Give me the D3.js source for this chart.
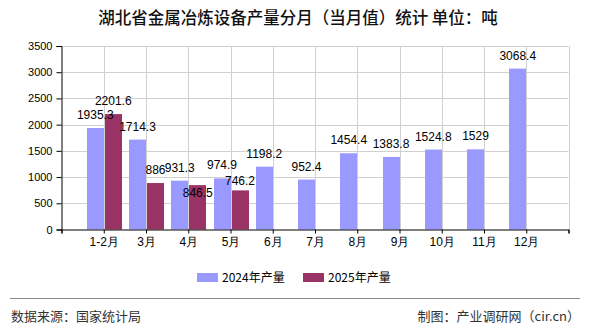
<!DOCTYPE html>
<html><head><meta charset="utf-8">
<script src="https://cdn.jsdelivr.net/npm/d3@7"></script>
<style>body{margin:0;background:#fff;}svg{display:block;}</style>
</head><body>
<svg id="c" width="590" height="330"></svg>
<script>
const categories = ["1-2月","3月","4月","5月","6月","7月","8月","9月","10月","11月","12月"];
const values2024 = [1935.3,1714.3,931.3,974.9,1198.2,952.4,1454.4,1383.8,1524.8,1529,3068.4];
const values2025 = [2201.6,886,846.5,746.2];
const yTicks = [0,500,1000,1500,2000,2500,3000,3500];
const seriesNames = ["2024年产量","2025年产量"];
const colors = ["#9999FF","#993366"];

const svg = d3.select("#c");
const L = 61.5, R = 568.5, T = 46, B = 229.5;
const y = d3.scaleLinear().domain([0,3500]).range([B,T]);
const x = d3.scalePoint().domain(["_s",...categories,"_e"]).range([L,R]);
const bw = 17;
const numFont = "'Liberation Sans', Arial, sans-serif";
const cjk = "'Noto Sans CJK SC', sans-serif";

// title
svg.append("text").attr("x",298).attr("y",24).attr("text-anchor","middle")
  .attr("font-family",cjk).attr("font-size",16.5).attr("font-weight",500).attr("fill","#111")
  .text("湖北省金属冶炼设备产量分月（当月值）统计  单位：吨");

// grid
const g = svg.append("g");
g.selectAll(".hg").data(yTicks.slice(1)).join("line")
  .attr("x1",L).attr("x2",R).attr("y1",d=>Math.round(y(d))+0.5).attr("y2",d=>Math.round(y(d))+0.5)
  .attr("stroke","#d0d0d0");
g.selectAll(".vg").data([...categories,"_e"]).join("line")
  .attr("x1",d=>Math.round(x(d))+0.5).attr("x2",d=>Math.round(x(d))+0.5).attr("y1",T).attr("y2",B)
  .attr("stroke","#d0d0d0");

// bars
svg.append("g").selectAll("rect").data(values2024).join("rect")
  .attr("x",(d,i)=>Math.round(x(categories[i]))-bw).attr("width",bw)
  .attr("y",d=>y(d)).attr("height",d=>B-y(d)).attr("fill",colors[0]);
svg.append("g").selectAll("rect").data(values2025).join("rect")
  .attr("x",(d,i)=>Math.round(x(categories[i]))+1).attr("width",bw)
  .attr("y",d=>y(d)).attr("height",d=>B-y(d)).attr("fill",colors[1]);

// labels
svg.append("g").selectAll("text").data(values2024).join("text")
  .attr("x",(d,i)=>x(categories[i])-bw/2).attr("y",d=>y(d)-9)
  .attr("text-anchor","middle").attr("font-family",numFont).attr("font-size",12).attr("fill","#000")
  .text(d=>d);
svg.append("g").selectAll("text").data(values2025).join("text")
  .attr("x",(d,i)=>x(categories[i])+bw/2+1).attr("y",(d,i)=> i===2 ? y(d)+12 : (i===3 ? y(d)-5 : y(d)-9))
  .attr("text-anchor","middle").attr("font-family",numFont).attr("font-size",12).attr("fill","#000")
  .text(d=>d);

// axes
const ya = svg.append("g").attr("transform",`translate(${L},0)`)
  .call(d3.axisLeft(y).tickValues(yTicks).tickSize(5).tickPadding(4).tickFormat(d3.format("d")));
ya.select(".domain").attr("stroke","#000");
ya.selectAll("text").attr("font-family",numFont).attr("font-size",11).attr("fill","#000");
const xa = svg.append("g").attr("transform",`translate(0,${B})`)
  .call(d3.axisBottom(x).tickSize(4).tickPadding(4).tickFormat(d=>d.startsWith("_")?"":d));
xa.select(".domain").attr("stroke","#000");
xa.selectAll("text").attr("font-family",numFont).attr("font-size",12).attr("fill","#000");

// legend
const lg = svg.append("g");
const lx = [197, 303];
seriesNames.forEach((n,i)=>{
  lg.append("rect").attr("x",lx[i]).attr("y",273).attr("width",21).attr("height",9).attr("fill",colors[i]);
  lg.append("text").attr("x",lx[i]+25).attr("y",282).attr("font-family",cjk).attr("font-size",12).attr("fill","#000").text(n);
});

// footer
svg.append("line").attr("x1",10).attr("x2",580).attr("y1",298.5).attr("y2",298.5).attr("stroke","#888");
svg.append("text").attr("x",11).attr("y",321).attr("font-family",cjk).attr("font-size",13).attr("fill","#333").text("数据来源：国家统计局");
svg.append("text").attr("x",580).attr("y",321).attr("text-anchor","end").attr("font-family",cjk).attr("font-size",13).attr("fill","#333").text("制图：产业调研网（cir.cn）");
</script>
</body></html>
